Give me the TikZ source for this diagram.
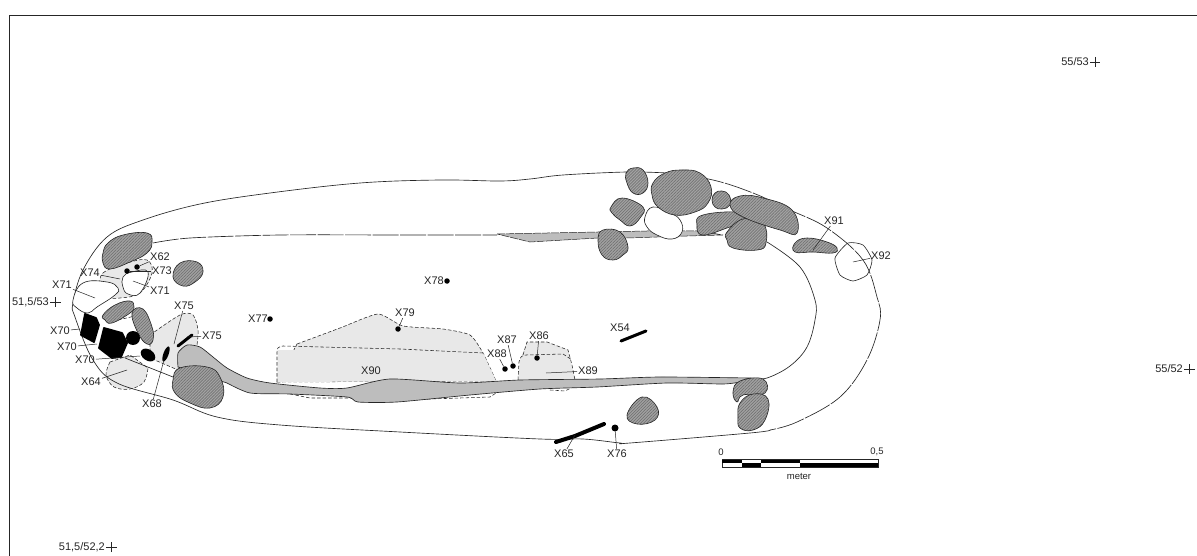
\documentclass[tikz,border=0pt]{standalone}
\usepackage{fontspec}
\setmainfont{Liberation Sans}
\usetikzlibrary{patterns.meta}
\definecolor{ink}{HTML}{262626}
\tikzset{
  x=1pt,y=-1pt,
  hatched/.style={draw=ink,line width=.6pt,pattern={Lines[angle=45,distance=2.1pt,line width=.7pt]},pattern color=black!55},
  stonefill/.style={fill=black!36},
  whitestone/.style={draw=ink,line width=.6pt,fill=white},
  blackstone/.style={draw=black,fill=black,line width=1.8pt,line join=round},
  outline/.style={draw=ink,line width=.65pt},
  dashline/.style={draw=ink,line width=.65pt,dash pattern=on 5pt off 1.2pt},
  area/.style={draw=ink,line width=.55pt,dash pattern=on 3.5pt off 2pt,fill=black!9},
  strip/.style={fill=black!26},
  lab/.style={font=\fontsize{11}{12}\selectfont,text=ink,inner sep=1pt},
  tiny/.style={font=\fontsize{9.5}{11}\selectfont,text=ink,inner sep=0pt},
  lead/.style={draw=ink,line width=.5pt},
  dot/.style={circle,fill=black,inner sep=0pt,minimum size=5.5pt},
  smallcross/.style={draw=ink,line width=.5pt},
}
\newcommand{\stone}[2][hatched]{\path[stonefill] plot[smooth cycle,tension=.75] coordinates {#2};\path[#1] plot[smooth cycle,tension=.75] coordinates {#2};}
\begin{document}
\begin{tikzpicture}
\useasboundingbox (0,0) rectangle (1197,556);
\fill[white] (0,0) rectangle (1197,556);
\draw[ink,line width=.8pt] (9,556) -- (9,15.5) -- (1197,15.5);

% light areas
\path[area] plot[smooth,tension=.35] coordinates {(297,344) (340,328) (378,314) (403,326) (443,329) (470,335) (483,353) (496,381)} -- (277,382) -- cycle;
\path[draw=none,fill=black!9] (277,382) -- (278,350) -- (483,353) -- (496,381) -- cycle;
\draw[area,fill=none] (277,382) -- (277,352) .. controls (277,348) and (278,347) .. (283,346) -- (400,349) -- (483,353);
\path[fill=black!9] (518,380) -- (520,360) -- (527,342) -- (547,342) -- (568,350) -- (575,380) -- cycle;
\draw[area,fill=none] (523,355) -- (527,342) -- (547,342) -- (568,350) -- (572,365) -- (575,380);
\draw[area,fill=none] (518,380) -- (519,362) .. controls (520,357) and (522,355) .. (526,355) -- (563,354) -- (572,360);
\draw[area,fill=none] (290,394) -- (310,398) -- (347,398) -- (400,400) -- (490,397) -- (496,393);
\draw[area,fill=none] (550,390) -- (565,391) -- (575,386);
\path[area] plot[smooth cycle,tension=.6] coordinates {(100,287) (103,273) (127,263) (147,260) (152,273) (140,293) (120,298) (103,297)};
\path[area] plot[smooth,tension=.6] coordinates {(110,362) (106,375) (114,387) (130,389) (144,382) (148,368)} -- (130,355) -- cycle;
\path[area] plot[smooth,tension=.5] coordinates {(150,335) (180,315) (193,315) (198,330) (197,345)} -- (178,370) -- (150,358) -- cycle;
\draw[area,fill=none] (118,320) -- (135,316);

% outer outline
\draw[outline] plot[smooth,tension=.6] coordinates {(667,173) (627,172) (563,175) (530,179) (500,181) (440,180) (360,183) (270,193) (200,204) (143,220) (107,237) (83,270) (73,303) (75,317) (93,360) (117,383) (173,400) (217,417) (280,425) (400,432) (540,439) (583,439) (620,443) (630,443) (750,433) (770,430)};
\draw[dashline,dash pattern=on 28pt off 1.5pt] plot[smooth,tension=.6] coordinates {(667,173) (713,180) (753,193) (790,210) (827,228) (863,260) (877,297) (880,320) (867,360) (840,397) (797,422) (770,430)};
% inner line
\draw[outline] (125,358) -- (173,377);
\draw[dashline,dash pattern=on 26pt off 1.5pt] plot[smooth,tension=.5] coordinates {(153,243) (190,238) (280,235) (400,235) (497,235)};
\draw[outline] plot[smooth,tension=.6] coordinates {(767,242) (800,267) (815,300) (815,320) (807,347) (790,366) (767,378) (750,379)};

% strips
\draw[outline,strip] plot[smooth,tension=.4] coordinates {(178,367) (178,353) (187,345) (200,347) (213,357) (227,368) (247,378) (270,383) (320,388) (347,388) (390,379) (460,383) (520,380) (600,379) (660,377) (750,378)} -- (740,382) -- plot[smooth,tension=.4] coordinates {(740,382) (723,384) (667,383) (597,387) (540,389) (470,395) (397,402) (358,402) (347,397) (290,394) (250,393) (227,383)} -- cycle;
\path[strip,draw=ink,line width=.5pt,dash pattern=on 8pt off 1pt] (497,234) -- (598,232) -- (647,231) -- (700,231) -- (723,235) -- (687,236) -- (627,238) -- (598,238) -- (530,242) -- cycle;

% stones
\stone{(103,253) (108,243) (123,235) (147,233) (152,242) (147,253) (130,262) (110,269) (103,263)}
\stone{(173,277) (180,263) (197,262) (203,272) (195,282) (183,286)}
\stone[whitestone]{(73,300) (83,283) (107,282) (118,288) (115,295) (97,307) (88,313) (77,308)}
\stone[whitestone]{(123,277) (132,272) (148,272) (140,293) (128,294) (123,287)}
\stone{(103,315) (115,305) (130,301) (134,307) (130,313) (112,323) (105,320)}
\stone{(132,313) (143,309) (152,327) (153,340) (147,344) (138,333)}
\stone{(173,380) (180,368) (207,367) (220,377) (223,397) (210,408) (190,403) (175,393)}
\stone{(626,173) (633,168) (643,170) (648,183) (643,193) (633,193) (627,183)}
\stone{(611,207) (622,198) (643,207) (640,218) (630,226) (620,220) (612,213)}
\stone[whitestone]{(645,217) (653,207) (670,213) (680,220) (682,232) (672,239) (657,235) (647,227)}
\stone{(653,183) (665,173) (682,170) (700,173) (711,187) (708,203) (695,212) (675,215) (658,207) (652,195)}
\stone{(712,200) (715,193) (722,191) (729,195) (730,205) (722,209) (715,207)}
\stone{(598,240) (603,230) (620,232) (628,247) (623,255) (613,260) (602,255)}
\stone{(697,225) (703,215) (740,212) (757,218) (730,227) (703,235)}
\stone{(727,232) (743,219) (763,223) (766,243) (757,250) (733,248) (727,240)}
\stone{(730,205) (740,196) (763,198) (792,210) (797,233) (780,230) (743,217)}
\stone{(795,243) (807,238) (827,242) (837,248) (833,253) (813,252) (795,252)}
\path[whitestone,fill=none] plot[smooth cycle,tension=.35] coordinates {(835,258) (848,243) (863,245) (872,260) (867,275) (853,281) (840,275)};
\stone{(627,415) (642,397) (657,407) (655,420) (637,424)}
\stone{(733,392) (740,381) (763,379) (765,393) (743,395) (737,402)}
\stone{(740,403) (753,394) (768,399) (765,420) (753,430) (740,428) (738,417)}

% black finds
\path[blackstone] (85,314) -- (96,318) -- (99,325) -- (94,342) -- (81,335) -- cycle;
\path[blackstone] (104,328) -- (122,333) -- (127,343) -- (121,357) -- (112,358) -- (99,348) -- cycle;
\fill[black] (133,338) circle (7);
\fill[black,rotate around={-35:(148,355)}] (148,355) ellipse (8 and 5.5);
\fill[black,rotate around={70:(166,354)}] (166,354) ellipse (8 and 2.6);
\node[dot] (d62) at (137,267) {};
\node[dot] (d73) at (127,271) {};
\node[dot] (d77) at (270,319) {};
\node[dot] (d78) at (447,281) {};
\node[dot] (d79) at (398,329) {};
\node[dot] (d88) at (505,369) {};
\node[dot] (d87) at (513,366) {};
\node[dot] (d86) at (537,358) {};
\node[dot,minimum size=7pt] (d76) at (615,428) {};
\draw[black,line width=3pt,line cap=round] (178,346) -- (192,335);
\draw[black,line width=3pt,line cap=round] (621,341) -- (646,331);
\draw[black,line width=4pt,line cap=round] (556,442) -- (575,436) -- (604,424);

% labels
\node[lab] (x91) at (834,221) {X91};
\node[lab] (x92) at (881,256) {X92};
\node[lab] (x78) at (434,281) {X78};
\node[lab] (x77) at (258,319) {X77};
\node[lab] (x79) at (405,313) {X79};
\node[lab] (x87) at (507,340) {X87};
\node[lab] (x86) at (539,336) {X86};
\node[lab] (x88) at (497,354) {X88};
\node[lab] (x54) at (620,328) {X54};
\node[lab] (x89) at (588,371) {X89};
\node[lab] (x90) at (371,371) {X90};
\node[lab] (x65) at (564,454) {X65};
\node[lab] (x76) at (617,454) {X76};
\node[lab] (x62) at (160,257) {X62};
\node[lab] (x73) at (162,271) {X73};
\node[lab] (x71b) at (160,291) {X71};
\node[lab] (x74) at (90,273) {X74};
\node[lab] (x71a) at (62,285) {X71};
\node[lab] (x70a) at (60,331) {X70};
\node[lab] (x70b) at (67,347) {X70};
\node[lab] (x70c) at (85,360) {X70};
\node[lab] (x64) at (91,382) {X64};
\node[lab] (x68) at (152,404) {X68};
\node[lab] (x75a) at (184,306) {X75};
\node[lab] (x75b) at (212,336) {X75};

% leader ends
\coordinate (e91) at (813,250);
\coordinate (e92) at (853,262);
\coordinate (e89) at (546,373);
\coordinate (e74) at (120,279);
\coordinate (e71a) at (95,298);
\coordinate (e71b) at (133,281);
\coordinate (e70a) at (80,329);
\coordinate (e70b) at (97,344);
\coordinate (e70c) at (140,356);
\coordinate (e64) at (127,370);
\coordinate (e68) at (164,360);
\coordinate (e75a) at (174,344);
\coordinate (e75b) at (187,337);
\coordinate (e65) at (575,435);
\draw[lead] (x91) -- (e91);
\draw[lead] (x92) -- (e92);
\draw[lead] (x79) -- (d79);
\draw[lead] (x87) -- (d87);
\draw[lead] (x86) -- (d86);
\draw[lead] (x88) -- (d88);
\draw[lead] (x89) -- (e89);
\draw[lead] (x62) -- (d62);
\draw[lead] (x73) -- (d73);
\draw[lead] (x74) -- (e74);
\draw[lead] (x71a) -- (e71a);
\draw[lead] (x71b) -- (e71b);
\draw[lead] (x70a) -- (e70a);
\draw[lead] (x70b) -- (e70b);
\draw[lead] (x70c) -- (e70c);
\draw[lead] (x64) -- (e64);
\draw[lead] (x68) -- (e68);
\draw[lead] (x75a) -- (e75a);
\draw[lead] (x75b) -- (e75b);
\draw[lead] (x65) -- (e65);
\draw[lead] (x76) -- (d76);

% grid crosses
\node[lab,anchor=east] (g1) at (1090,62) {55/53};
\draw[smallcross] (1090,62) -- (1100,62) (1095,57) -- (1095,67);
\node[lab,anchor=east] (g2) at (1184,369) {55/52};
\draw[smallcross] (1184,369) -- (1195,369) (1189.5,364) -- (1189.5,374);
\node[lab,anchor=east] (g3) at (50,302) {51,5/53};
\draw[smallcross] (50,302) -- (61,302) (55.5,297) -- (55.5,307);
\node[lab,anchor=east] (g4) at (106,547) {51,5/52,2};
\draw[smallcross] (106,547) -- (117,547) (111.5,542) -- (111.5,552);

% scale bar
\draw[ink,line width=.6pt,fill=white] (722,459.5) rectangle (878,467);
\fill[black] (722,459.5) rectangle (741.5,463.2);
\fill[black] (761,459.5) rectangle (800,463.2);
\fill[black] (741.5,463.2) rectangle (761,467);
\fill[black] (800,463.2) rectangle (878,467);
\node[tiny] (s0) at (721,452) {0};
\node[tiny] (s5) at (877,452) {0,5};
\node[tiny] (sm) at (799,476.5) {meter};
\end{tikzpicture}
\end{document}
